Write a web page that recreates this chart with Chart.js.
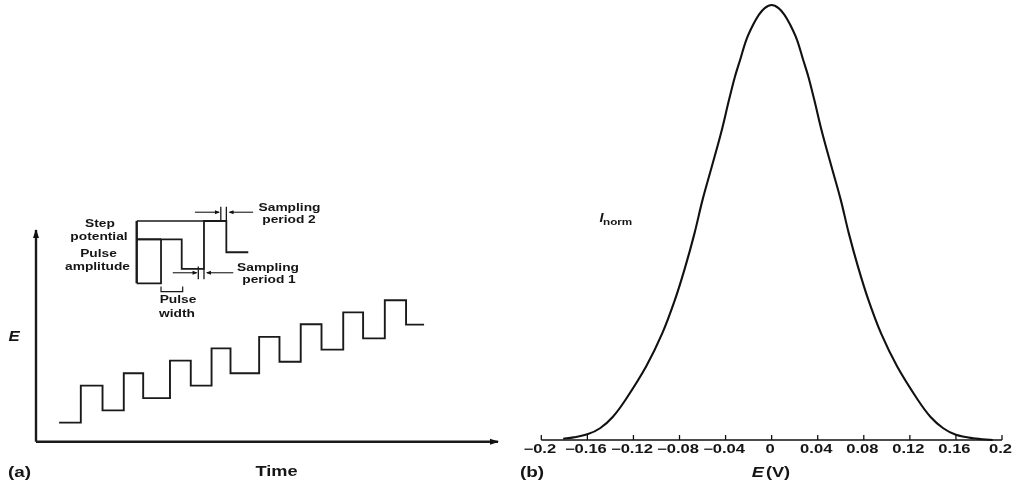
<!DOCTYPE html>
<html>
<head>
<meta charset="utf-8">
<script src="https://cdn.jsdelivr.net/npm/chart.js@4/dist/chart.umd.min.js"></script>
<style>
  html, body { margin: 0; padding: 0; background: #fff; }
  #wrap { position: relative; width: 1021px; height: 487px; overflow: hidden; background: #fff; }
  canvas { position: absolute; top: 0; }
  #chartA { left: 0; }
  #chartB { left: 512px; }
</style>
</head>
<body>
<div id="wrap">
  <canvas id="chartA" width="512" height="487"></canvas>
  <canvas id="chartB" width="509" height="487"></canvas>
</div>
<script>
// ---------- (a) differential pulse waveform: potential E vs time ----------
// staircase of pulses: each level holds until the next time value
const stairTime = [5.0, 9.7, 14.4, 19.0, 23.2, 29.0, 33.5, 38.0, 42.1, 48.3, 52.7, 57.3, 61.8, 66.5, 70.8, 75.5, 80.1, 84.0];
const stairE    = [9.0, 26.5, 14.8, 32.3, 20.6, 38.3, 26.5, 44.1, 32.3, 49.5, 37.8, 55.5, 43.5, 61.1, 48.8, 66.8, 55.3, 55.3];

// enlarged detail of one pulse cycle
const detailTime = [21.8, 27.06, 31.54, 36.36, 41.2, 45.95];
const detailE    = [74.8, 95.6, 81.6, 104.25, 89.5, 89.5];

// annotation guides of the detail (time, E pairs)
const guideStepTime  = [21.8, 36.36];   const guideStepE  = [104.25, 104.25];
const guidePulseTime = [21.8, 27.06];   const guidePulseE = [95.6, 95.6];
const bracketTime    = [21.8, 21.8];    const bracketE    = [104.25, 74.8];
const widthTime      = [27.06, 27.06, 31.75, 31.75];
const widthE         = [73.3, 70.9, 70.9, 73.3];
const samp1TickTime  = [35.13, 35.13];  const samp1TickE  = [82.7, 76.7];
const samp1EdgeTime  = [36.36, 36.36];  const samp1EdgeE  = [81.6, 76.7];
const samp1InTime    = [29.6, 34.75];   const samp1InE    = [79.8, 79.8];
const samp1OutTime   = [42.7, 37.0];    const samp1OutE   = [79.8, 79.8];
const samp2TickTime  = [40.0, 40.0];    const samp2TickE  = [111.0, 104.25];
const samp2EdgeTime  = [41.2, 41.2];    const samp2EdgeE  = [111.0, 104.25];
const samp2InTime    = [34.4, 39.6];    const samp2InE    = [108.4, 108.4];
const samp2OutTime   = [47.0, 41.9];    const samp2OutE   = [108.4, 108.4];

// axes of panel (a), drawn as arrows
const axisTimeT = [0, 100];  const axisTimeE = [0, 0];
const axisPotT  = [0, 0];    const axisPotE  = [0, 100];

// ---------- (b) normalised differential pulse current vs E ----------
const curveE = [-0.181, -0.172, -0.160, -0.149, -0.138, -0.127, -0.109, -0.095, -0.084, -0.075, -0.067, -0.060,
                -0.052, -0.044, -0.037, -0.032, -0.027, -0.022, -0.016, -0.011, -0.006, 0.0,
                0.006, 0.011, 0.016, 0.022, 0.027, 0.032, 0.037, 0.044, 0.052, 0.060, 0.067, 0.075,
                0.084, 0.095, 0.109, 0.127, 0.138, 0.149, 0.160, 0.175, 0.192];
const curveI = [0.003, 0.006, 0.013, 0.027, 0.053, 0.092, 0.169, 0.245, 0.322, 0.398, 0.475, 0.552,
                0.628, 0.705, 0.782, 0.834, 0.877, 0.920, 0.955, 0.978, 0.993, 1.0,
                0.993, 0.978, 0.955, 0.920, 0.877, 0.834, 0.782, 0.705, 0.628, 0.552, 0.475, 0.398,
                0.322, 0.245, 0.169, 0.092, 0.053, 0.027, 0.012, 0.004, 0.0];
const eTicks = [-0.2, -0.16, -0.12, -0.08, -0.04, 0, 0.04, 0.08, 0.12, 0.16, 0.2];
const eTickLabels = ['\u22120.2', '\u22120.16', '\u22120.12', '\u22120.08', '\u22120.04', '0',
                     '0.04', '0.08', '0.12', '0.16', '0.2'];

const FONT = '"Liberation Sans", Arial, Helvetica, sans-serif';
const INK = '#151515';

function pts(xs, ys) { return xs.map((x, i) => ({ x: x, y: ys[i] })); }

function seg(xs, ys, width, extra) {
  return Object.assign({
    data: pts(xs, ys),
    borderColor: '#1a1a1a',
    borderWidth: width,
    pointRadius: 0,
    fill: false,
    clip: false,
    tension: 0
  }, extra || {});
}

// text drawn with a horizontal stretch
function wideText(ctx, txt, x, y, font, sx, align) {
  ctx.save();
  ctx.font = font;
  ctx.fillStyle = INK;
  ctx.textBaseline = 'middle';
  ctx.textAlign = align || 'center';
  ctx.translate(x, y);
  ctx.scale(sx, 1);
  ctx.fillText(txt, 0, 0);
  ctx.restore();
}

// several font runs on one line, centred at cx
function wideRuns(ctx, runs, cx, cy, sx) {
  ctx.save();
  let total = 0;
  runs.forEach(r => { ctx.font = r.font; r.w = ctx.measureText(r.text).width + (r.gap || 0); total += r.w; });
  let x = cx - total * sx / 2;
  ctx.fillStyle = INK;
  ctx.textBaseline = 'middle';
  ctx.textAlign = 'left';
  runs.forEach(r => {
    ctx.save();
    ctx.font = r.font;
    ctx.translate(x, cy);
    ctx.scale(sx, 1);
    ctx.fillText(r.text, 0, 0);
    ctx.restore();
    x += r.w * sx;
  });
  ctx.restore();
}

// arrowheads at the last point of datasets flagged with "arrow"
const arrowHeads = {
  id: 'arrowHeads',
  afterDatasetsDraw(chart) {
    const ctx = chart.ctx;
    const xs = chart.scales.x, ys = chart.scales.y;
    chart.data.datasets.forEach(ds => {
      if (!ds.arrow) return;
      const n = ds.data.length;
      const a = ds.data[n - 2], b = ds.data[n - 1];
      const x1 = xs.getPixelForValue(a.x), y1 = ys.getPixelForValue(a.y);
      const x2 = xs.getPixelForValue(b.x), y2 = ys.getPixelForValue(b.y);
      const ang = Math.atan2(y2 - y1, x2 - x1);
      const L = ds.arrow.len, W = ds.arrow.half;
      ctx.save();
      ctx.fillStyle = '#111';
      ctx.translate(x2, y2);
      ctx.rotate(ang);
      ctx.beginPath();
      ctx.moveTo(1, 0);
      ctx.lineTo(-L, -W);
      ctx.lineTo(-L, W);
      ctx.closePath();
      ctx.fill();
      ctx.restore();
    });
  }
};

const labelsA = {
  id: 'labelsA',
  afterDraw(chart) {
    const ctx = chart.ctx;
    const small = 'bold 11px ' + FONT;
    const sx = 1.25;
    wideText(ctx, 'Step', 100, 223.5, small, sx);
    wideText(ctx, 'potential', 99, 236.5, small, sx);
    wideText(ctx, 'Pulse', 98.5, 253.5, small, sx);
    wideText(ctx, 'amplitude', 97.5, 266.5, small, sx);
    wideText(ctx, 'Pulse', 178, 300, small, sx);
    wideText(ctx, 'width', 177, 313.5, small, sx);
    wideText(ctx, 'Sampling', 289.5, 207.5, small, sx);
    wideText(ctx, 'period 2', 289, 220, small, sx);
    wideText(ctx, 'Sampling', 268, 267.7, small, sx);
    wideText(ctx, 'period 1', 269, 279.5, small, sx);
    wideText(ctx, 'E', 14, 337, 'italic bold 14px ' + FONT, 1.2);
    wideText(ctx, '(a)', 8, 473, 'bold 14px ' + FONT, 1.35, 'left');
    wideText(ctx, 'Time', 276.5, 472.5, 'bold 14px ' + FONT, 1.3);
  }
};

new Chart(document.getElementById('chartA'), {
  type: 'line',
  data: {
    datasets: [
      seg(axisTimeT, axisTimeE, 2.4, { arrow: { len: 8, half: 3 } }),
      seg(axisPotT, axisPotE, 2.4, { arrow: { len: 8, half: 3 } }),
      seg(stairTime, stairE, 1.9, { stepped: 'before' }),
      seg(detailTime, detailE, 1.8, { stepped: 'before' }),
      seg(guideStepTime, guideStepE, 1.5),
      seg(guidePulseTime, guidePulseE, 2.2),
      seg(bracketTime, bracketE, 2.4),
      seg(widthTime, widthE, 1.2),
      seg(samp1TickTime, samp1TickE, 1.3),
      seg(samp1EdgeTime, samp1EdgeE, 1.3),
      seg(samp1InTime, samp1InE, 1.1, { arrow: { len: 4, half: 2 } }),
      seg(samp1OutTime, samp1OutE, 1.1, { arrow: { len: 4, half: 2 } }),
      seg(samp2TickTime, samp2TickE, 1.3),
      seg(samp2EdgeTime, samp2EdgeE, 1.3),
      seg(samp2InTime, samp2InE, 1.1, { arrow: { len: 4, half: 2 } }),
      seg(samp2OutTime, samp2OutE, 1.1, { arrow: { len: 4, half: 2 } })
    ]
  },
  options: {
    responsive: false,
    animation: false,
    events: [],
    layout: { padding: { left: 36, right: 14, top: 230, bottom: 45.3 } },
    plugins: { legend: { display: false }, tooltip: { enabled: false } },
    elements: { point: { radius: 0 }, line: { borderCapStyle: 'butt', borderJoinStyle: 'miter' } },
    scales: {
      x: { type: 'linear', min: 0, max: 100, display: false },
      y: { type: 'linear', min: 0, max: 100, display: false }
    }
  },
  plugins: [arrowHeads, labelsA]
});

// axis, ticks and labels of panel (b)
const axisB = {
  id: 'axisB',
  afterDraw(chart) {
    const ctx = chart.ctx;
    const xs = chart.scales.x, ys = chart.scales.y;
    const y0 = ys.getPixelForValue(0);
    const xa = xs.getPixelForValue(eTicks[0]);
    const xb = xs.getPixelForValue(eTicks[eTicks.length - 1]);
    ctx.save();
    ctx.strokeStyle = '#111';
    ctx.lineWidth = 1.6;
    ctx.beginPath();
    ctx.moveTo(xa, y0);
    ctx.lineTo(xb, y0);
    ctx.stroke();
    ctx.lineWidth = 1.3;
    eTicks.forEach((v, i) => {
      const px = xs.getPixelForValue(v);
      ctx.beginPath();
      ctx.moveTo(px, y0);
      ctx.lineTo(px, y0 - 5);
      ctx.stroke();
      wideText(ctx, eTickLabels[i], px - 1.5, y0 + 9.5, 'bold 12px ' + FONT, 1.38);
    });
    ctx.restore();
    wideText(ctx, '(b)', 8, 473, 'bold 14px ' + FONT, 1.35, 'left');
    wideRuns(ctx, [
      { text: 'E', font: 'italic bold 14px ' + FONT, gap: 1.5 },
      { text: '(V)', font: 'bold 14px ' + FONT }
    ], 259, 473, 1.3);
    // current axis label with subscript
    ctx.save();
    ctx.fillStyle = INK;
    ctx.textBaseline = 'alphabetic';
    ctx.textAlign = 'left';
    ctx.font = 'italic bold 12px ' + FONT;
    ctx.translate(87.5, 222);
    ctx.scale(1.2, 1);
    ctx.fillText('I', 0, 0);
    ctx.restore();
    ctx.save();
    ctx.fillStyle = INK;
    ctx.textBaseline = 'alphabetic';
    ctx.textAlign = 'left';
    ctx.font = 'bold 9px ' + FONT;
    ctx.translate(91, 224.5);
    ctx.scale(1.3, 1);
    ctx.fillText('norm', 0, 0);
    ctx.restore();
  }
};

new Chart(document.getElementById('chartB'), {
  type: 'line',
  data: {
    datasets: [{
      data: pts(curveE, curveI),
      borderColor: '#111',
      borderWidth: 2.1,
      pointRadius: 0,
      fill: false,
      clip: false,
      tension: 0.35
    }]
  },
  options: {
    responsive: false,
    animation: false,
    events: [],
    layout: { padding: { left: 29.3, right: 19, top: 5, bottom: 47 } },
    plugins: { legend: { display: false }, tooltip: { enabled: false } },
    scales: {
      x: { type: 'linear', min: -0.2, max: 0.2, display: false },
      y: { type: 'linear', min: 0, max: 1, display: false }
    }
  },
  plugins: [axisB]
});
</script>
</body>
</html>
